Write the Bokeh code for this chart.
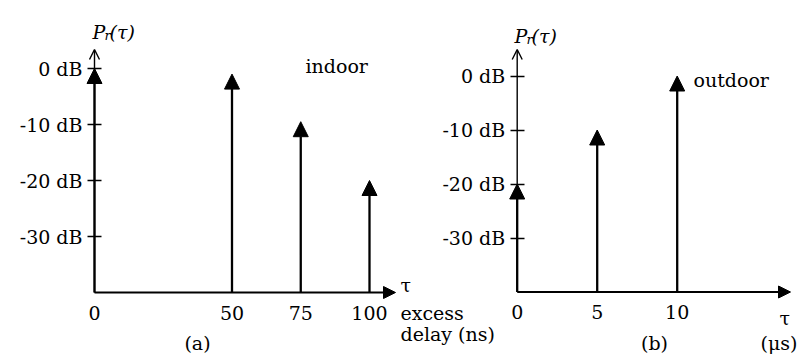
from bokeh.plotting import figure
from bokeh.models import (Range1d, LinearAxis, FixedTicker, PrintfTickFormatter,
                          Arrow, NormalHead, OpenHead, Label, ColumnDataSource)
from bokeh.embed import file_html
from bokeh.resources import INLINE

# ---------------- data ----------------
indoor_delay_ns = [0, 50, 75, 100]
indoor_power_db = [0, -1, -9.5, -20]
outdoor_delay_us = [0, 5, 10]
outdoor_power_db = [-20, -10, 0]
power_ticks_db = [0, -10, -20, -30]
indoor_delay_ticks = [0, 50, 75, 100]
outdoor_delay_ticks = [0, 5, 10]
floor_db = -40

# ---------------- geometry ----------------
W, H = 799, 355
FONT = "DejaVu Serif"
FS = "19px"

# canvas pixel of data origin and pixels per unit, panel (a) and (b)
A_X0, A_SX = 94.0, 2.75
A_Y0, A_SY = 68.0, 5.6
B_X0, B_SX = 516.7, 16.0
B_Y0, B_SY = 75.5, 5.4

p = figure(width=W, height=H, output_backend="svg", toolbar_location=None,
           x_axis_type=None, y_axis_type=None,
           x_range=Range1d(-A_X0 / A_SX, (W - A_X0) / A_SX),
           y_range=Range1d(-(H - A_Y0) / A_SY, A_Y0 / A_SY),
           min_border=0, outline_line_color=None)
p.extra_x_ranges = {"bx": Range1d(-B_X0 / B_SX, (W - B_X0) / B_SX)}
p.extra_y_ranges = {"by": Range1d(-(H - B_Y0) / B_SY, B_Y0 / B_SY)}
p.background_fill_color = "white"
p.border_fill_color = "white"


def a_xy(px, py):
    return (px - A_X0) / A_SX, (A_Y0 - py) / A_SY


def b_xy(px, py):
    return (px - B_X0) / B_SX, (B_Y0 - py) / B_SY


def axis_common(ax):
    ax.axis_line_color = None
    ax.minor_tick_line_color = None
    ax.major_label_text_font = FONT
    ax.major_label_text_font_size = FS
    ax.major_label_text_color = "black"


for rx, ry, dticks in ((None, None, indoor_delay_ticks), ("bx", "by", outdoor_delay_ticks)):
    kw = {}
    if rx:
        kw = dict(x_range_name=rx, y_range_name=ry)
    ya = LinearAxis(fixed_location=0, ticker=FixedTicker(ticks=power_ticks_db),
                    formatter=PrintfTickFormatter(format="%d dB"), **kw)
    axis_common(ya)
    ya.major_tick_in = 7
    ya.major_tick_out = 7
    ya.major_tick_line_width = 1.5
    ya.major_tick_line_color = "black"
    ya.major_label_standoff = 5
    p.add_layout(ya, "left")

    xa = LinearAxis(fixed_location=floor_db, ticker=FixedTicker(ticks=dticks), **kw)
    axis_common(xa)
    xa.major_tick_in = 0
    xa.major_tick_out = 0
    xa.major_tick_line_color = None
    xa.major_label_standoff = 13
    p.add_layout(xa, "below")

# axis lines with arrow heads
ay_top = a_xy(0, 49)[1]
ax_end = a_xy(395, 0)[0]
by_top = b_xy(0, 49)[1]
bx_end = b_xy(790, 0)[0]

p.add_layout(Arrow(x_start=0, y_start=floor_db, x_end=0, y_end=ay_top,
                   line_width=1.4, line_color="black",
                   end=OpenHead(size=10, line_width=1.4, line_color="black")))
p.add_layout(Arrow(x_start=0, y_start=floor_db, x_end=ax_end, y_end=floor_db,
                   line_width=2, line_color="black",
                   end=NormalHead(size=12, fill_color="black", line_color="black")))
p.add_layout(Arrow(x_start=0, y_start=floor_db, x_end=0, y_end=by_top,
                   line_width=1.4, line_color="black", x_range_name="bx", y_range_name="by",
                   end=OpenHead(size=10, line_width=1.4, line_color="black")))
p.add_layout(Arrow(x_start=0, y_start=floor_db, x_end=bx_end, y_end=floor_db,
                   line_width=2, line_color="black", x_range_name="bx", y_range_name="by",
                   end=NormalHead(size=12, fill_color="black", line_color="black")))

# impulse stems
src_a = ColumnDataSource(dict(x=indoor_delay_ns, y=indoor_power_db,
                              base=[floor_db] * len(indoor_delay_ns)))
src_b = ColumnDataSource(dict(x=outdoor_delay_us, y=outdoor_power_db,
                              base=[floor_db] * len(outdoor_delay_us)))
p.add_layout(Arrow(x_start="x", y_start="base", x_end="x", y_end="y", source=src_a,
                   line_width=2.3, line_color="black",
                   end=NormalHead(size=15, fill_color="black", line_color="black")))
p.add_layout(Arrow(x_start="x", y_start="base", x_end="x", y_end="y", source=src_b,
                   line_width=2.3, line_color="black", x_range_name="bx", y_range_name="by",
                   end=NormalHead(size=15, fill_color="black", line_color="black")))


def label(text, px, py, panel="a", size=FS, style="normal", align="left"):
    if panel == "a":
        x, y = a_xy(px, py)
        kw = {}
    else:
        x, y = b_xy(px, py)
        kw = dict(x_range_name="bx", y_range_name="by")
    p.add_layout(Label(x=x, y=y, text=text, text_font=FONT, text_font_size=size,
                       text_font_style=style, text_color="black", text_align=align,
                       text_baseline="alphabetic", **kw))


# panel (a) texts
label("P", 92, 31, "a", style="italic")
label("r", 104, 35, "a", size="13px", style="italic")
label("(τ)", 109, 31, "a", style="italic")
label("indoor", 305, 65, "a")
label("τ", 400, 284, "a")
label("excess", 400, 312, "a")
label("delay (ns)", 400, 333, "a")
label("(a)", 197, 342, "a", align="center")

# panel (b) texts
label("P", 514, 35, "b", style="italic")
label("r", 526, 39, "b", size="13px", style="italic")
label("(τ)", 531, 35, "b", style="italic")
label("outdoor", 693, 79, "b")
label("τ", 779, 317, "b")
label("(μs)", 797, 342, "b", align="right")
label("(b)", 654, 342, "b", align="center")

open("out.html", "w").write(file_html(p, INLINE))
